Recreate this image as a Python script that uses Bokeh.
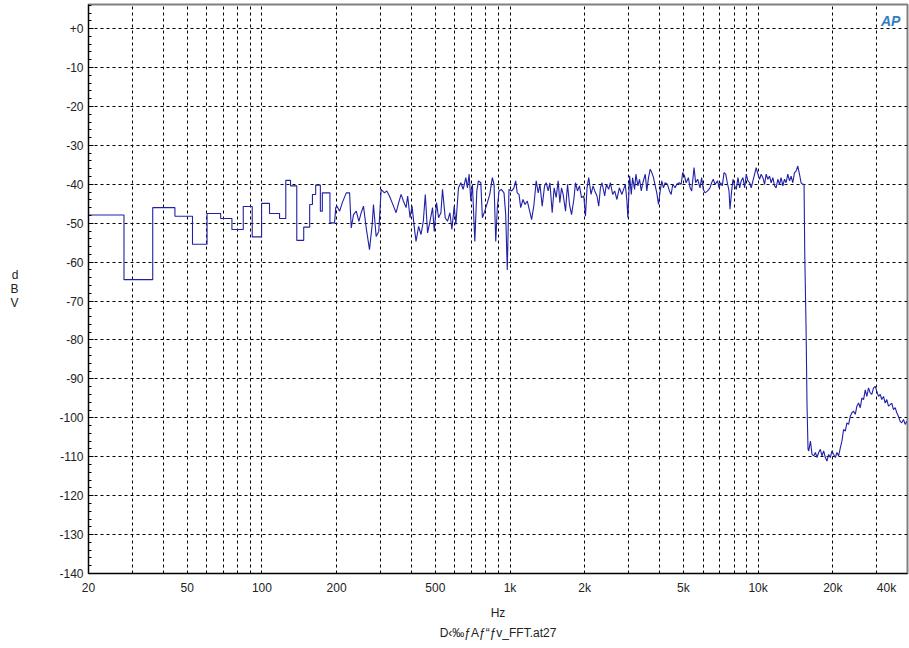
from bokeh.plotting import figure
from bokeh.models import FixedTicker, PrintfTickFormatter, Title, Label
from bokeh.embed import file_html
from bokeh.resources import INLINE

# ---------------- data ----------------
# low-frequency FFT bins (step segments: value holds from this frequency to the next)
step_freq = [20, 27.8, 36.3, 44.6, 52.5, 60.1, 68.2, 75.7, 84.1, 91.4, 99.7, 107.3,
             117.8, 124.8, 130.4, 138.2, 147.4, 155.8, 159.8, 164.7, 172.0, 175.2,
             188.0, 196.3]
step_db = [-47.9, -64.5, -46.0, -48.2, -55.4, -47.5, -48.8, -51.6, -45.7, -53.5, -44.9, -47.5,
           -48.8, -39.0, -40.4, -54.4, -51.0, -45.2, -42.6, -40.2, -46.9, -42.2,
           -49.9, -49.9]

# rest of the spectrum (dense part)
line_freq = [
    196.3, 198.4, 200.6, 205.7, 210.9, 218.8, 225.6, 229.1, 234.0, 240.0, 245.9, 251.3,
    256.7, 263.2, 271.4, 278.3, 281.6, 288.7, 295.8, 302.4, 311.8, 318.5, 326.6, 334.8,
    347.4, 355.9, 363.9, 371.7, 381.1, 386.8, 395.5, 402.9, 411.5, 418.0, 428.2, 437.8,
    447.2, 455.5, 465.3, 475.8, 487.3, 495.0, 505.6, 515.1, 526.6, 534.5, 548.0, 559.8,
    572.4, 583.1, 595.6, 605.0, 619.8, 633.7, 647.3, 663.6, 673.5, 684.2, 695.0, 705.4,
    721.3, 734.7, 745.7, 762.4, 773.8, 791.2, 810.4, 828.6, 848.8, 862.2, 875.9, 888.9,
    903.0, 922.4, 945.7, 960.7, 974.9, 990.4, 1015.5, 1037.3, 1053.7, 1069.4,
    1087, 1104, 1128, 1149, 1174, 1200, 1222, 1249, 1275, 1299, 1320, 1348, 1378, 1399,
    1425, 1448, 1479, 1506, 1535, 1563, 1588, 1613, 1637, 1674, 1705, 1737, 1770, 1808,
    1836, 1870, 1905, 1941, 1983, 2014, 2044, 2076, 2121, 2161, 2195, 2242, 2278, 2314,
    2348, 2407, 2446, 2498, 2538, 2592, 2641, 2697, 2758, 2825, 2870, 2915, 2959, 2986,
    3034, 3082, 3119, 3177, 3216, 3276, 3327, 3380, 3431, 3508, 3560, 3616, 3674, 3728,
    3787, 3847, 3905, 3967, 4030, 4090, 4154, 4220, 4311, 4391, 4461, 4528, 4629, 4698,
    4804, 4893, 4966, 5045, 5125, 5235, 5318, 5397, 5518, 5600, 5705, 5833, 5920, 6014,
    6109, 6258, 6398, 6493, 6596, 6701, 6864,
    6958, 7068, 7173, 7287, 7402, 7513, 7632, 7703, 7796, 7919, 8045, 8165, 8294, 8425,
    8551, 8687, 8824, 8956, 9098, 9242, 9379, 9528, 9679, 9822, 9978, 10136, 10287,
    10450, 10616, 10774, 10945, 11118, 11284, 11463, 11645, 11819, 12006, 12197, 12379,
    12575, 12775, 12965, 13171, 13380, 13580, 13795, 14014, 14223, 14449, 14678, 14897,
    15133, 15316, 15415, 15601, 15746, 15892,
    15995, 16249, 16491, 16752, 17018, 17272, 17539, 17818, 18084, 18371, 18662, 18941,
    19242, 19547, 19838, 20153, 20473, 20778, 21108, 21443, 21763, 22108, 22459, 22794,
    23156, 23523, 23874, 24253, 24638, 25005, 25402, 25805, 26190, 26605, 27027, 27430,
    27865, 28307, 28730, 29185, 29648, 30090, 30568, 31053, 31516, 32016, 32524, 33009,
    33533, 34065, 34573, 35122, 35679, 36211, 36786, 37369, 37926, 38528, 39139, 39723]
line_db = [
    -49.9, -46.0, -45.6, -46.9, -44.7, -42.2, -42.2, -51.2, -47.8, -46.9, -49.5, -47.3,
    -45.6, -51.2, -56.8, -50.3, -45.2, -53.4, -52.1, -41.3, -42.2, -41.7, -43.0, -44.7,
    -47.3, -44.7, -42.6, -44.3, -46.0, -43.0, -48.6, -45.6, -51.2, -54.7, -50.8, -52.9,
    -49.5, -42.6, -52.5, -49.5, -46.0, -52.1, -44.7, -48.6, -47.3, -41.3, -48.6, -49.5,
    -47.3, -51.6, -45.6, -50.3, -40.9, -39.6, -41.3, -38.3, -40.9, -37.4, -44.3, -40.0,
    -54.7, -41.7, -39.1, -39.6, -48.6, -46.9, -44.7, -42.6, -38.3, -40.0, -54.7, -46.0,
    -41.7, -41.3, -42.2, -47.8, -62.0, -41.3, -41.7, -40.9, -39.1, -42.2,
    -42.6, -46.0, -43.9, -45.2, -44.3, -46.9, -49.1, -45.2, -39.1, -42.2, -40.0, -45.6, -40.4, -39.6,
    -41.7, -39.6, -47.3, -40.9, -43.4, -39.1, -44.7, -40.9, -42.6, -46.9, -40.0, -45.2, -47.8, -43.9,
    -39.6, -41.7, -40.4, -43.4, -43.0, -48.2, -40.9, -38.3, -42.6, -40.4, -41.7, -43.0, -45.6, -40.9,
    -39.6, -43.0, -40.0, -41.3, -39.6, -42.6, -41.7, -43.9, -40.9, -42.6, -41.3, -40.0, -44.3, -48.6,
    -37.8, -42.6, -38.3, -41.3, -37.4, -40.4, -38.7, -41.7, -39.6, -37.4, -41.7, -38.3, -36.1, -37.0,
    -38.3, -40.4, -42.2, -45.2, -41.7, -39.1, -40.9, -39.6, -40.0, -41.7, -42.6, -40.0, -40.9, -40.0,
    -39.6, -40.0, -37.0, -37.8, -39.6, -38.3, -40.9, -41.7, -35.7, -39.6, -38.7, -40.9, -38.3, -41.3,
    -42.2, -41.7, -40.9, -39.6, -38.7, -40.0, -39.1,
    -40.9, -39.6, -40.4, -37.0, -37.4, -39.6, -41.7, -46.4, -42.6, -38.7, -40.4, -41.3, -38.3, -40.9,
    -39.1, -38.3, -40.9, -37.4, -39.1, -39.6, -40.9, -39.1, -37.4, -35.7, -37.4, -38.7, -37.4,
    -38.3, -40.0, -37.4, -38.7, -37.9, -39.6, -38.3, -40.4, -40.9, -38.7, -40.0, -38.3,
    -40.4, -38.7, -39.6, -37.4, -39.1, -37.9, -39.6, -37.0, -36.6, -35.3, -37.4, -39.6,
    -40.0, -40.0, -57.9, -76.6, -97.0, -108.1,
    -108.5, -106.0, -109.4, -109.8, -108.9, -110.2, -108.9, -108.1, -109.8, -108.5, -110.2, -111.1,
    -109.4, -110.2, -108.5, -109.4, -110.2, -108.9, -109.8, -107.7, -106.0, -103.0, -103.4, -101.3,
    -101.7, -99.6, -98.7, -98.3, -99.1, -97.0, -96.2, -97.4, -94.9, -95.3, -92.8, -94.5,
    -92.3, -93.6, -94.0, -92.3, -91.9, -93.2, -94.5, -94.0, -95.3, -94.5, -96.2, -95.3,
    -97.0, -96.6, -96.2, -97.9, -97.4, -98.7, -99.6, -100.9, -101.3, -100.4, -101.7, -100.9]

# axis ticks / labels
x_tick_values = [20, 50, 100, 200, 500, 1000, 2000, 5000, 10000, 20000, 40000]
x_tick_labels = ["20", "50", "100", "200", "500", "1k", "2k", "5k", "10k", "20k",
                 "40k" + "\u00a0" * 4]
x_grid_values = [30, 40, 50, 60, 70, 80, 90,
                 100, 200, 300, 400, 500, 600, 700, 800, 900,
                 1000, 2000, 3000, 4000, 5000, 6000, 7000, 8000, 9000,
                 10000, 20000, 30000]
y_tick_values = [0, -10, -20, -30, -40, -50, -60, -70, -80, -90, -100, -110, -120, -130, -140]
y_minor_values = [v for v in range(-138, 7, 2) if v % 10 != 0]

x_label = "Hz"
y_label = "d\nB\nV"
bottom_title = "D\u2039\u2030\u0192A\u0192\u201c\u0192v_FFT.at27"

FONT = "Liberation Sans"
TXT = "#222222"
CURVE = "#2020a8"

p = figure(width=909, height=648, x_axis_type="log",
           x_range=(20, 40000), y_range=(-140, 6.2),
           output_backend="svg", toolbar_location=None,
           min_border_left=88, min_border_right=2, min_border_top=4,
           min_border_bottom=75, background_fill_color="white",
           border_fill_color="white")

p.outline_line_color = "#808080"
p.outline_line_width = 2

# x axis
p.xaxis.ticker = FixedTicker(ticks=x_tick_values)
p.xaxis.major_label_overrides = {v: l for v, l in zip(x_tick_values, x_tick_labels)}
p.xaxis.major_tick_in = 0
p.xaxis.major_tick_out = 0
p.xaxis.minor_tick_in = 0
p.xaxis.minor_tick_out = 0
p.xaxis.axis_line_color = "black"
p.xaxis.major_label_standoff = 7
p.xaxis.major_label_text_font = FONT
p.xaxis.major_label_text_font_size = "12px"
p.xaxis.major_label_text_color = TXT
p.xaxis.axis_label = x_label
p.xaxis.axis_label_standoff = 8
p.xaxis.axis_label_text_font = FONT
p.xaxis.axis_label_text_font_size = "12px"
p.xaxis.axis_label_text_font_style = "normal"
p.xaxis.axis_label_text_color = TXT

# y axis
p.yaxis.ticker = FixedTicker(ticks=y_tick_values, minor_ticks=y_minor_values)
p.yaxis.formatter = PrintfTickFormatter(format="%+d")
p.yaxis.major_tick_in = 5
p.yaxis.major_tick_out = 0
p.yaxis.minor_tick_in = 3
p.yaxis.minor_tick_out = 0
p.yaxis.minor_tick_line_color = "black"
p.yaxis.axis_line_color = "black"
p.yaxis.major_label_standoff = 5
p.yaxis.major_label_text_font = FONT
p.yaxis.major_label_text_font_size = "12px"
p.yaxis.major_label_text_color = TXT
p.yaxis.axis_label = y_label
p.yaxis.axis_label_orientation = "horizontal"
p.yaxis.axis_label_standoff = 38
p.yaxis.axis_label_text_font = FONT
p.yaxis.axis_label_text_font_size = "12px"
p.yaxis.axis_label_text_font_style = "normal"
p.yaxis.axis_label_text_color = TXT
p.yaxis.axis_label_text_line_height = 1.0

# grids
p.xgrid.ticker = FixedTicker(ticks=x_grid_values)
p.ygrid.ticker = FixedTicker(ticks=y_tick_values[:-1])
for g in (p.xgrid, p.ygrid):
    g.grid_line_color = "black"
    g.grid_line_dash = "3 3"
    g.grid_line_width = 1
    g.grid_line_alpha = 1.0

# data
p.step(step_freq, step_db, mode="after", line_color=CURVE, line_width=1.1)
p.line(line_freq, line_db, line_color=CURVE, line_width=1.1)

# logo
p.add_layout(Label(x=34200, y=2, text="AP", text_align="center", text_baseline="middle",
                   text_font=FONT, text_font_size="14px", text_font_style="bold italic",
                   text_color="#2f7fbf"))

p.add_layout(Title(text=bottom_title, align="center", text_font=FONT,
                   text_font_size="12px", text_font_style="normal",
                   text_color=TXT, standoff=3), "below")

open("out.html", "w").write(file_html(p, INLINE))
